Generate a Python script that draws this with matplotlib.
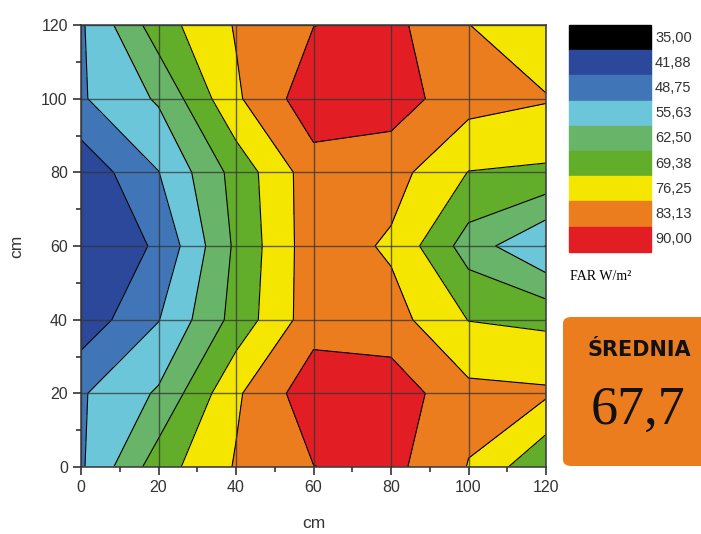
import matplotlib
matplotlib.use("Agg")
import matplotlib.pyplot as plt
import numpy as np
from matplotlib.patches import FancyBboxPatch, Rectangle

# grid positions (cm)
x_cm = [0, 20, 40, 60, 80, 100, 120]
y_cm = [0, 20, 40, 60, 80, 100, 120]

# FAR values, one row per y (bottom to top)
far_y0 = [47.8, 66.3, 76.8, 83.0, 85.1, 76.0, 63.1]
far_y20 = [48.0, 56.5, 75.2, 87.4, 87.1, 78.1, 77.3]
far_y40 = [37.5, 48.5, 65.0, 80.2, 79.0, 69.2, 67.9]
far_y60 = [35.5, 42.9, 63.8, 80.3, 75.2, 59.4, 48.6]
far_y80 = [37.0, 48.6, 65.0, 80.2, 79.0, 69.2, 68.3]
far_y100 = [48.0, 56.5, 75.2, 87.4, 86.4, 79.0, 76.8]
far_y120 = [47.8, 66.3, 76.8, 83.0, 85.1, 76.4, 69.6]

levels = [35.0, 41.875, 48.75, 55.625, 62.5, 69.375, 76.25, 83.125, 90.0]
level_labels = ["35,00", "41,88", "48,75", "55,63", "62,50",
                "69,38", "76,25", "83,13", "90,00"]
band_colors = ["#2C489B", "#4076B8", "#6CC6DA", "#68B468",
               "#62AE2A", "#F5E600", "#EC7D1F", "#E21E24"]
legend_colors = ["#000000"] + band_colors
mean_label = "67,7"

plt.rcParams["font.family"] = ["Liberation Sans", "DejaVu Sans"]

Z = np.array([far_y0, far_y20, far_y40, far_y60, far_y80, far_y100, far_y120])
X, Y = np.meshgrid(x_cm, y_cm)

fig = plt.figure(figsize=(7.01, 5.34), dpi=100)
ax = fig.add_axes([81 / 701, 67 / 534, 465 / 701, 442 / 534])

ax.contourf(X, Y, Z, levels=levels, colors=band_colors)
ax.contour(X, Y, Z, levels=levels, colors="k", linewidths=0.8)

ax.set_xlim(0, 120)
ax.set_ylim(0, 120)
ax.set_xticks(range(0, 121, 20))
ax.set_yticks(range(0, 121, 20))
ax.set_xticks(range(10, 120, 20), minor=True)
ax.set_yticks(range(10, 120, 20), minor=True)
ax.tick_params(which="major", direction="out", length=6, width=1.2,
               labelsize=11.5, colors="#333333")
ax.tick_params(which="minor", direction="out", length=3.5, width=1.2,
               colors="#333333")
ax.grid(True, which="major", color="#333333", lw=1, alpha=0.75)
ax.set_axisbelow(False)
for s in ax.spines.values():
    s.set_color("#444444")
    s.set_linewidth(1.2)

ax.set_xlabel("cm", fontsize=12.5, color="#333333", labelpad=15)
ax.set_ylabel("cm", fontsize=12.5, color="#333333", labelpad=12)

# colour legend
box_h = 25.2 / 534
top = 1 - 25 / 534
for i, c in enumerate(legend_colors):
    y0 = top - (i + 1) * box_h
    fig.patches.append(Rectangle((569 / 701, y0), 82 / 701, box_h,
                                 transform=fig.transFigure, color=c))
    fig.text(655 / 701, y0 + box_h / 2, level_labels[i], fontsize=10.5,
             color="#333333", va="center", ha="left")

fig.text(570 / 701, 1 - 277 / 534, "FAR W/m²", fontsize=10,
         family=["Liberation Serif", "DejaVu Serif"], va="center", ha="left")

# mean box
fig.patches.append(FancyBboxPatch((563 / 701, 68 / 534), 150 / 701, 149 / 534,
                                  boxstyle="round,pad=0,rounding_size=0.012",
                                  transform=fig.transFigure,
                                  facecolor="#EC7D1F", edgecolor="none"))
fig.text(639 / 701, 1 - 350 / 534, "ŚREDNIA", fontsize=15, fontweight="bold",
         family=["DejaVu Sans"], ha="center", va="center", color="#111111")
fig.text(638 / 701, 1 - 411 / 534, mean_label,
         fontsize=39, family=["Liberation Serif", "DejaVu Serif"],
         ha="center", va="center", color="#111111")

fig.savefig("out.png", dpi=100)
